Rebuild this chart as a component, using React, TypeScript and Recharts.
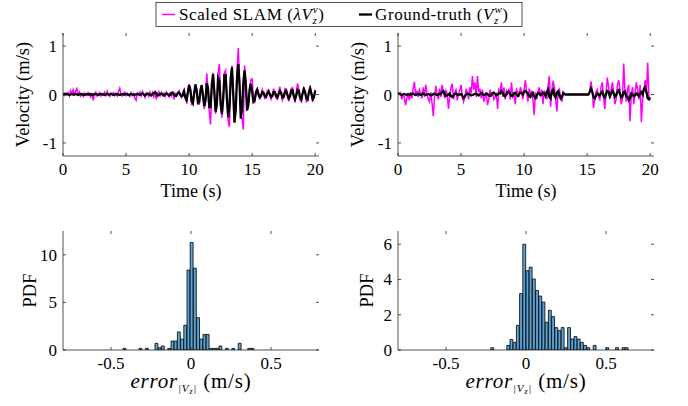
import React from 'react';
import { LineChart, Line, XAxis, YAxis, BarChart, Bar } from 'recharts';

// ---------------- data ----------------
const TIME_STEP = 0.1; // s, sampling of the velocity traces
const timeTicks = [0, 5, 10, 15, 20];
const velTicks = [-1, 0, 1];
const errTicks = [-0.5, 0, 0.5];
const pdfTicksLeft = [0, 5, 10];
const pdfTicksRight = [0, 2, 4, 6];

// left column: scaled SLAM vertical velocity (m/s), one value per 0.1 s
const slamLeft = [
  0.01, -0.02, 0.03, 0.0, 0.04, -0.03, 0.08, 0.02, 0.1, -0.02,
  0.07, 0.12, 0.0, 0.05, -0.03, 0.02, -0.04, 0.03, 0.0, -0.02,
  0.04, 0.02, -0.05, 0.03, -0.12, 0.02, 0.05, -0.03, 0.01, 0.04,
  -0.03, 0.02, 0.0, 0.05, -0.02, 0.07, 0.0, -0.04, 0.03, 0.01,
  0.04, -0.02, 0.02, -0.03, 0.06, 0.13, 0.0, -0.03, 0.02, 0.05,
  -0.02, 0.03, 0.0, -0.04, 0.04, -0.02, 0.02, -0.08, -0.12, 0.03,
  0.0, 0.05, -0.03, 0.06, 0.01, -0.06, 0.03, 0.02, -0.04, 0.05,
  -0.02, 0.04, -0.05, 0.03, -0.1, 0.02, 0.06, -0.03, 0.04, -0.02,
  0.03, -0.04, 0.05, 0.0, -0.05, 0.03, -0.03, 0.06, -0.1, 0.02,
  -0.03, 0.05, 0.08, -0.02, -0.06, 0.04, 0.1, -0.08, -0.14, 0.08,
  0.22, 0.08, -0.22, -0.15, 0.05, 0.15, 0.12, -0.2, -0.2, 0.12,
  0.2, 0.0, -0.3, -0.15, 0.44, 0.1, -0.35, -0.62, 0.15, 0.45,
  0.1, -0.4, -0.25, 0.45, 0.63, -0.1, -0.48, -0.15, 0.45, 0.5,
  -0.1, -0.55, -0.67, 0.3, 0.6, 0.05, -0.55, -0.35, 0.5, 0.96,
  0.25, -0.45, -0.5, -0.72, 0.6, 0.25, -0.3, -0.25, 0.15, 0.3,
  0.32, -0.1, -0.18, 0.02, 0.12, 0.05, -0.1, -0.02, 0.1, 0.02,
  -0.08, -0.05, 0.08, 0.1, -0.03, -0.1, 0.0, 0.12, 0.03, -0.08,
  -0.1, 0.05, 0.16, 0.0, -0.12, -0.05, 0.12, 0.1, -0.05, -0.14,
  0.0, 0.12, 0.14, -0.06, -0.16, 0.05, 0.23, 0.1, -0.12, -0.15,
  0.05, 0.15, 0.02, -0.15, -0.12, 0.08, 0.18, 0.0, -0.14, -0.05,
  0.1,
];

// left column: ground-truth vertical velocity (m/s)
const truthLeft = [
  0, 0.01, 0, 0.01, 0, -0.01, 0, 0.01, 0, 0,
  0.01, 0, -0.01, 0, 0.01, 0, 0, -0.01, 0, 0.01,
  0, 0, 0.01, -0.01, 0, 0, 0.01, 0, -0.01, 0,
  0.01, 0, 0, -0.01, 0, 0.01, 0, 0, 0.01, 0,
  -0.01, 0, 0.01, 0, 0, -0.01, 0, 0.01, 0, 0,
  0.01, 0, -0.01, 0, 0.01, 0, -0.01, 0, 0, 0.01,
  0, -0.01, 0.01, 0.02, 0, -0.02, 0, 0.02, 0.01, -0.01,
  -0.02, 0.01, 0.03, 0.05, 0.02, -0.02, -0.01, 0.01, 0.02, 0,
  -0.02, 0, 0.02, 0.01, -0.02, -0.01, 0.03, 0.04, 0, -0.03,
  -0.02, 0.03, 0.04, 0, -0.04, -0.02, 0.06, -0.06, -0.12, 0.04,
  0.19, 0.1, -0.13, -0.18, 0.02, 0.21, 0.08, -0.17, -0.16, 0.08,
  0.19, -0.02, -0.24, -0.12, 0.24, 0.12, -0.26, -0.26, 0.2, 0.42,
  0.05, -0.35, -0.2, 0.35, 0.3, -0.2, -0.4, -0.1, 0.4, 0.4,
  -0.1, -0.47, -0.25, 0.35, 0.56, 0.0, -0.58, -0.3, 0.35, 0.63,
  0.2, -0.5, -0.3, 0.25, 0.5, 0.2, -0.33, -0.2, 0.1, 0.22,
  0.05, -0.15, -0.12, 0.05, 0.1, 0.0, -0.06, -0.03, 0.05, 0.04,
  -0.03, -0.05, 0.02, 0.06, 0.01, -0.05, -0.03, 0.05, 0.05, -0.03,
  -0.06, 0.01, 0.07, 0.03, -0.06, -0.05, 0.05, 0.08, -0.01, -0.08,
  -0.04, 0.08, 0.09, -0.03, -0.1, -0.02, 0.1, 0.08, -0.06, -0.1,
  0.02, 0.11, 0.05, -0.08, -0.1, 0.04, 0.12, 0.02, -0.1, -0.06,
  0.08,
];

// right column: scaled SLAM vertical velocity (m/s)
const slamRight = [
  0.05, 0.02, 0.04, -0.1, 0.0, -0.05, -0.22, -0.08, 0.02, -0.12,
  0.05, -0.08, 0.12, 0.26, -0.02, 0.08, -0.05, 0.1, 0.03, -0.08,
  0.15, -0.05, 0.2, 0.02, -0.1, -0.15, 0.05, -0.18, -0.45, -0.05,
  0.18, 0.0, -0.1, 0.12, -0.05, 0.2, 0.05, -0.08, 0.08, 0.02,
  -0.3, -0.05, 0.15, 0.22, -0.1, 0.05, 0.1, -0.12, 0.02, 0.08,
  0.2, -0.05, -0.15, -0.05, 0.1, 0.05, -0.1, 0.15, 0.02, 0.38,
  0.1, 0.25, -0.05, 0.38, 0.05, 0.12, -0.08, 0.1, -0.15, -0.05,
  0.05, -0.22, -0.1, 0.1, -0.05, 0.05, -0.1, -0.05, 0.0, -0.3,
  0.1, 0.05, 0.25, -0.05, 0.15, -0.1, 0.08, 0.02, 0.12, -0.1,
  0.25, -0.05, 0.0, -0.2, 0.1, 0.05, -0.05, 0.15, 0.08, -0.1,
  0.1, 0.3, 0.05, -0.15, 0.12, 0.0, 0.08, -0.1, -0.42, 0.05,
  -0.1, 0.05, 0.15, -0.05, 0.1, -0.2, 0.08, 0.02, -0.1, 0.2,
  0.38, -0.25, 0.1, 0.28, 0.15, -0.1, -0.35, 0.05, 0.1, -0.08,
  -0.15, 0.05, 0.0, 0, 0, 0, 0, 0, 0, 0,
  0, 0, 0, 0, 0, 0, 0, 0, 0, 0,
  0, 0, 0.05, 0.27, 0.1, -0.28, -0.1, 0.05, 0.1, -0.05,
  -0.1, 0.15, 0.25, -0.05, -0.3, 0.05, 0.35, 0.15, -0.08, 0.1,
  0.25, 0.05, -0.2, -0.1, 0.2, 0.3, 0.1, -0.2, -0.1, 0.64,
  0.05, -0.15, 0.1, 0.2, -0.55, 0.0, 0.15, -0.2, 0.05, 0.25,
  0.1, -0.1, 0.2, -0.57, -0.1, 0.1, 0.3, 0.05, 0.66, -0.1,
  -0.12,
];

// right column: ground-truth vertical velocity (m/s)
const truthRight = [
  0.02, 0.01, 0, -0.01, 0, 0.01, 0, -0.01, 0.01, 0,
  0, 0.01, 0.02, 0, -0.01, 0, 0.01, 0, -0.01, 0.01,
  0.02, 0, -0.01, 0, 0.01, 0, -0.02, -0.01, 0.01, 0.02,
  0, -0.01, 0, 0.02, 0.01, 0.05, 0.07, 0.02, -0.03, -0.02,
  0, 0.02, -0.03, -0.05, -0.02, 0.01, 0.02, 0, -0.01, 0,
  0.01, -0.03, -0.07, -0.04, 0.0, 0.02, 0.01, 0, -0.02, -0.01,
  0, 0.01, 0.02, 0, -0.02, 0.01, 0.03, 0.01, -0.01, 0,
  0.02, 0.01, -0.02, -0.03, 0, 0.03, 0.04, 0.01, -0.02, 0,
  0.03, 0.02, 0.07, 0.04, -0.02, -0.04, 0.0, 0.05, 0.06, 0.01,
  -0.03, -0.02, 0.03, 0.04, 0.0, -0.03, 0.01, 0.04, 0.03, 0.0,
  0.06, 0.07, 0.05, 0.02, -0.03, -0.05, 0.0, 0.03, -0.04, -0.07,
  -0.02, 0.03, 0.02, -0.01, 0.0, 0.04, 0.02, -0.03, 0.05, 0.1,
  -0.05, -0.08, 0.06, 0.1, -0.02, -0.06, 0.04, 0.07, -0.02, -0.08,
  -0.05, 0.03, 0.01, 0, 0, 0, 0, 0, 0, 0,
  0, 0, 0, 0, 0, 0, 0, 0, 0, 0,
  0, 0, 0.05, 0.12, 0.06, -0.05, -0.08, -0.02, 0.02, 0.0,
  -0.02, 0.03, 0.06, -0.03, -0.06, 0.02, 0.07, 0.05, -0.04, 0.02,
  0.08, 0.03, -0.05, -0.02, 0.06, 0.09, 0.02, -0.06, -0.04, 0.05,
  0.06, -0.03, -0.05, -0.12, -0.08, 0.02, 0.0, -0.04, -0.02, 0.02,
  0.0, -0.03, 0.02, 0.05, 0.0, 0.12, 0.15, 0.05, -0.08, -0.1,
  -0.06,
];

// error histograms: bin centres (m/s) and PDF heights
const errBinsLeft = [
  -0.415, -0.315, -0.275, -0.215, -0.195, -0.175, -0.135, -0.115, -0.095, -0.075,
  -0.055, -0.035, -0.015, 0.005, 0.025, 0.045, 0.065, 0.085, 0.105, 0.125,
  0.145, 0.165, 0.185, 0.225, 0.265, 0.305, 0.365, 0.385,
];
const pdfLeft = [
  0.17, 0.17, 0.17, 0.7, 0.24, 0.42, 0.17, 0.94, 0.94, 1.9,
  1.15, 2.6, 8.4, 11.3, 8.6, 3.4, 1.15, 1.64, 1.64, 0.17,
  0.17, 0.17, 0.42, 0.17, 0.17, 0.7, 0.17, 0.17,
];
const errBinsRight = [
  -0.21, -0.11, -0.09, -0.07, -0.05, -0.03, -0.01, 0.01, 0.03, 0.05,
  0.07, 0.09, 0.11, 0.13, 0.15, 0.17, 0.19, 0.21, 0.23, 0.25,
  0.27, 0.29, 0.31, 0.33, 0.35, 0.37, 0.39, 0.43, 0.51, 0.57,
  0.61, 0.63,
];
const pdfRight = [
  0.13, 0.26, 0.6, 0.43, 1.4, 3.2, 6.0, 4.5, 4.7, 4.03,
  3.38, 3.06, 2.72, 1.57, 2.25, 1.89, 1.27, 1.1, 1.27, 0.13,
  1.27, 0.62, 0.76, 0.62, 0.43, 0.26, 0.13, 0.26, 0.13, 0.13,
  0.13, 0.13,
];

// ---------------- styling / layout ----------------
const FONT = '"Liberation Serif", "Times New Roman", serif';
const AX = '#262626';
const MAGENTA = '#FF00FF';
const BAR_FILL = '#5BA4D8';
const PLOT_W = 256;
const TOP_H = 123;
const BOT_H = 119;
const TICK_FS = 17;
const LABEL_FS = 18.5;
const BIN_W = 0.02;
const ERR_DOMAIN: [number, number] = [-0.8, 0.8];

const buildSeries = (slam: number[], truth: number[]) =>
  slam.map((v, i) => ({ t: Math.round(i * TIME_STEP * 10) / 10, slam: v, gt: truth[i] }));
const seriesLeft = buildSeries(slamLeft, truthLeft);
const seriesRight = buildSeries(slamRight, truthRight);
const histLeft = errBinsLeft.map((x, i) => ({ x, p: pdfLeft[i] }));
const histRight = errBinsRight.map((x, i) => ({ x, p: pdfRight[i] }));

const fmt = (v: number) => String(v);

const xTick = (plotH: number) => (p: any) => {
  const { x, y, payload } = p;
  return (
    <g>
      <line x1={x} x2={x} y1={y} y2={y - 3} stroke={AX} strokeWidth={0.8} />
      <line x1={x} x2={x} y1={y - plotH} y2={y - plotH + 3} stroke={AX} strokeWidth={0.8} />
      <text x={x} y={y + 19} textAnchor="middle" fontFamily={FONT} fontSize={TICK_FS} fill="#000">
        {fmt(payload.value)}
      </text>
    </g>
  );
};

const yTick = (plotW: number) => (p: any) => {
  const { x, y, payload } = p;
  return (
    <g>
      <line x1={x} x2={x + 3} y1={y} y2={y} stroke={AX} strokeWidth={0.8} />
      <line x1={x + plotW} x2={x + plotW - 3} y1={y} y2={y} stroke={AX} strokeWidth={0.8} />
      <text x={x - 6} y={y + 6} textAnchor="end" fontFamily={FONT} fontSize={TICK_FS} fill="#000">
        {fmt(payload.value)}
      </text>
    </g>
  );
};

function TimePlot({ left, data }: { left: number; data: any[] }) {
  const W = left === 0 ? 344 : 353;
  const domainX: [number, number] = [0, 20.3];
  const domainY: [number, number] = [-1.27, 1.27];
  return (
    <div style={{ position: 'absolute', left, top: 0 }}>
      <LineChart width={W} height={210} data={data} margin={{ top: 33, right: W - 63 - PLOT_W, bottom: 0, left: 0 }}>
        <XAxis xAxisId="b" dataKey="t" type="number" domain={domainX} ticks={timeTicks} interval={0}
          tickSize={0} tickMargin={0} height={54} allowDataOverflow axisLine={{ stroke: AX, strokeWidth: 0.8 }}
          tickLine={false} tick={xTick(TOP_H)} />
        <XAxis xAxisId="t" dataKey="t" orientation="top" type="number" domain={domainX} height={0}
          tick={false} tickLine={false} allowDataOverflow axisLine={{ stroke: AX, strokeWidth: 0.8 }} />
        <YAxis yAxisId="l" type="number" domain={domainY} ticks={velTicks} interval={0} tickSize={0}
          tickMargin={0} width={63} allowDataOverflow axisLine={{ stroke: AX, strokeWidth: 0.8 }}
          tickLine={false} tick={yTick(PLOT_W)} />
        <YAxis yAxisId="r" orientation="right" type="number" domain={domainY} width={0} tick={false}
          tickLine={false} allowDataOverflow axisLine={{ stroke: AX, strokeWidth: 0.8 }} />
        <Line xAxisId="b" yAxisId="l" type="linear" dataKey="slam" stroke={MAGENTA} strokeWidth={1.5}
          dot={false} isAnimationActive={false} />
        <Line xAxisId="b" yAxisId="l" type="linear" dataKey="gt" stroke="#000" strokeWidth={2.3}
          dot={false} isAnimationActive={false} />
      </LineChart>
    </div>
  );
}

function HistPlot({ left, data, yMax, yTicks }: { left: number; data: any[]; yMax: number; yTicks: number[] }) {
  const W = left === 0 ? 344 : 353;
  const barPx = (PLOT_W / (ERR_DOMAIN[1] - ERR_DOMAIN[0])) * BIN_W;
  return (
    <div style={{ position: 'absolute', left, top: 200 }}>
      <BarChart width={W} height={206} data={data} barCategoryGap={0} barGap={0}
        margin={{ top: 31, right: W - 63 - PLOT_W, bottom: 0, left: 0 }}>
        <XAxis xAxisId="b" dataKey="x" type="number" domain={ERR_DOMAIN} ticks={errTicks} interval={0}
          tickSize={0} tickMargin={0} height={56} allowDataOverflow axisLine={{ stroke: AX, strokeWidth: 0.8 }}
          tickLine={false} tick={xTick(BOT_H)} />
        <XAxis xAxisId="t" dataKey="x" orientation="top" type="number" domain={ERR_DOMAIN} height={0}
          tick={false} tickLine={false} allowDataOverflow axisLine={{ stroke: AX, strokeWidth: 0.8 }} />
        <YAxis yAxisId="l" type="number" domain={[0, yMax]} ticks={yTicks} interval={0} tickSize={0}
          tickMargin={0} width={63} allowDataOverflow axisLine={{ stroke: AX, strokeWidth: 0.8 }}
          tickLine={false} tick={yTick(PLOT_W)} />
        <YAxis yAxisId="r" orientation="right" type="number" domain={[0, yMax]} width={0} tick={false}
          tickLine={false} allowDataOverflow axisLine={{ stroke: AX, strokeWidth: 0.8 }} />
        <Bar xAxisId="b" yAxisId="l" dataKey="p" fill={BAR_FILL} stroke="#000" strokeWidth={0.8}
          barSize={barPx} isAnimationActive={false} />
      </BarChart>
    </div>
  );
}

function Overlay() {
  const t = { fontFamily: FONT, fill: '#000' } as any;
  return (
    <svg width={688} height={406} style={{ position: 'absolute', left: 0, top: 0, pointerEvents: 'none' }}>
      {/* legend */}
      <rect x={156} y={2.5} width={366} height={24} fill="#fff" stroke={AX} strokeWidth={0.8} />
      <line x1={162} x2={175} y1={14.5} y2={14.5} stroke={MAGENTA} strokeWidth={1.5} />
      <text x={179} y={20} fontSize={17} letterSpacing={0.6} {...t}>
        Scaled SLAM (
        <tspan fontStyle="italic">λV</tspan>
        <tspan fontStyle="italic" fontSize={11} dy={3.5}>z</tspan>
        <tspan fontStyle="italic" fontSize={11} dx={-4.5} dy={-11}>v</tspan>
        <tspan dy={7.5}>)</tspan>
      </text>
      <line x1={359} x2={372} y1={14.5} y2={14.5} stroke="#000" strokeWidth={2.3} />
      <text x={375} y={20} fontSize={17} letterSpacing={0.6} {...t}>
        Ground-truth (
        <tspan fontStyle="italic">V</tspan>
        <tspan fontStyle="italic" fontSize={11} dy={3.5}>z</tspan>
        <tspan fontStyle="italic" fontSize={11} dx={-4.5} dy={-11}>w</tspan>
        <tspan dy={7.5}>)</tspan>
      </text>

      {/* axis titles */}
      <text transform="translate(23,94.5) rotate(-90)" textAnchor="middle" dominantBaseline="central" fontSize={LABEL_FS} {...t}>Velocity (m/s)</text>
      <text transform="translate(358,94.5) rotate(-90)" textAnchor="middle" dominantBaseline="central" fontSize={LABEL_FS} {...t}>Velocity (m/s)</text>
      <text x={191} y={196.5} textAnchor="middle" fontSize={18} {...t}>Time (s)</text>
      <text x={526} y={196.5} textAnchor="middle" fontSize={18} {...t}>Time (s)</text>
      <text transform="translate(30,290.5) rotate(-90)" textAnchor="middle" dominantBaseline="central" fontSize={LABEL_FS} {...t}>PDF</text>
      <text transform="translate(367,290.5) rotate(-90)" textAnchor="middle" dominantBaseline="central" fontSize={LABEL_FS} {...t}>PDF</text>
      {[191, 526].map((cx) => (
        <text key={cx} x={cx} y={388} textAnchor="middle" fontSize={21} letterSpacing={0.8} {...t}>
          <tspan fontStyle="italic">error</tspan>
          <tspan fontStyle="italic" fontSize={11} dy={4}>|V</tspan>
          <tspan fontStyle="italic" fontSize={8} dy={2}>z</tspan>
          <tspan fontStyle="italic" fontSize={11} dy={-2}>|</tspan>
          <tspan dy={-4}> (m/s)</tspan>
        </text>
      ))}
    </svg>
  );
}

export default function App() {
  return (
    <div style={{ position: 'fixed', left: 0, top: 0, width: 688, height: 406, background: '#fff', overflow: 'hidden' }}>
      <TimePlot left={0} data={seriesLeft} />
      <TimePlot left={335} data={seriesRight} />
      <HistPlot left={0} data={histLeft} yMax={12.5} yTicks={pdfTicksLeft} />
      <HistPlot left={335} data={histRight} yMax={6.75} yTicks={pdfTicksRight} />
      <Overlay />
    </div>
  );
}
